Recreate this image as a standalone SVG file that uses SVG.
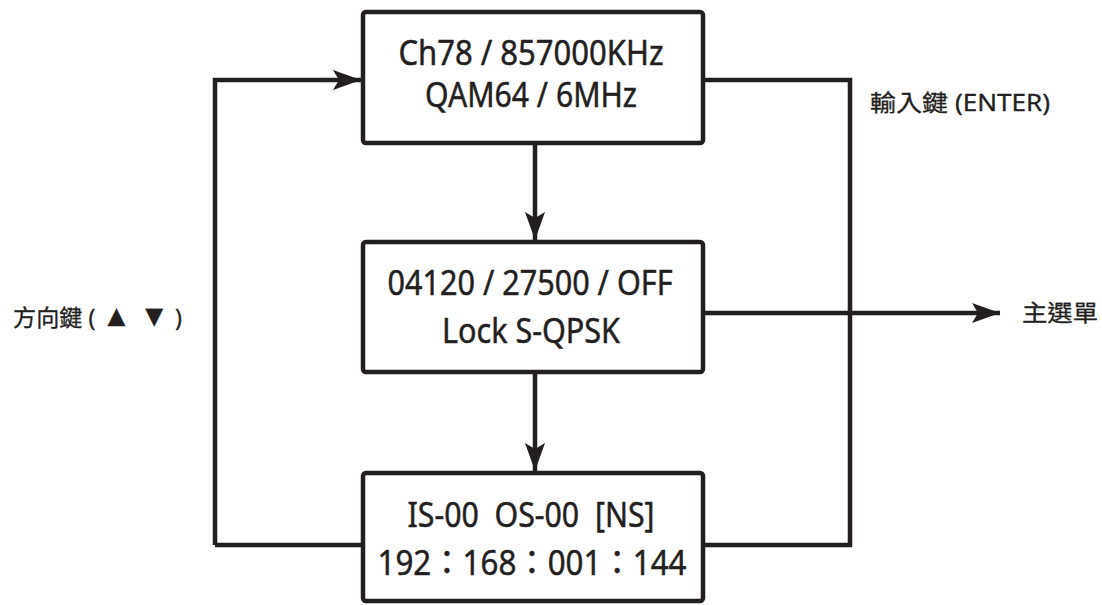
<svg xmlns="http://www.w3.org/2000/svg" width="1102" height="605" viewBox="0 0 1102 605">
<defs>
<style>
.box{fill:#fff;stroke:#231f20;stroke-width:4.5;stroke-linejoin:round}
.ln{fill:none;stroke:#231f20;stroke-width:4.5}
.t{font-family:"Noto Sans","Liberation Sans","Noto Sans CJK TC",sans-serif;font-size:34px;fill:#231f20;stroke:#231f20;stroke-width:0.5;text-anchor:middle;white-space:pre}
.lbl{font-family:"Noto Sans","Liberation Sans","Noto Sans CJK TC",sans-serif;font-size:23px;fill:#231f20;stroke:#231f20;stroke-width:0.3;white-space:pre}
</style>
<marker id="ah" markerUnits="userSpaceOnUse" markerWidth="30" markerHeight="24" viewBox="0 0 30 24" refX="28" refY="12" orient="auto">
<path d="M0,2 L28,12 L0,22 L6,12 Z" fill="#231f20"/>
</marker>
</defs>
<g id="connectors">
<path class="ln" d="M215,545 L215,80 L361,80" marker-end="url(#ah)"/>
<path class="ln" d="M703,80 L850,80 L850,545 L703,545"/>
<path class="ln" d="M365,545 L215,545"/>
<path class="ln" d="M535,143 L535,240" marker-end="url(#ah)"/>
<path class="ln" d="M535,372 L535,471" marker-end="url(#ah)"/>
<path class="ln" d="M703,313 L1000,313" marker-end="url(#ah)"/>
</g>
<g id="box1">
<rect class="box" x="363" y="12" width="340" height="131" rx="3"/>
<text class="t" x="531" y="65" textLength="265" lengthAdjust="spacingAndGlyphs">Ch78 / 857000KHz</text>
<text class="t" x="531" y="107" textLength="212" lengthAdjust="spacingAndGlyphs">QAM64 / 6MHz</text>
</g>
<g id="box2">
<rect class="box" x="363" y="242" width="340" height="130" rx="3"/>
<text class="t" x="530" y="295" textLength="285" lengthAdjust="spacingAndGlyphs">04120 / 27500 / OFF</text>
<text class="t" x="531" y="343" textLength="178" lengthAdjust="spacingAndGlyphs">Lock S-QPSK</text>
</g>
<g id="box3">
<rect class="box" x="363" y="473" width="340" height="128" rx="3"/>
<text class="t" x="531" y="527" textLength="247" lengthAdjust="spacingAndGlyphs">IS-00  OS-00  [NS]</text>
<text class="t" x="532" y="575" textLength="309" lengthAdjust="spacingAndGlyphs">192：168：001：144</text>
</g>
<g id="label-enter">
<text class="lbl" x="870" y="111" textLength="180" lengthAdjust="spacingAndGlyphs">輸入鍵 (ENTER)</text>
</g>
<g id="label-main">
<text class="lbl" x="1022" y="321" font-size="25" textLength="76" lengthAdjust="spacingAndGlyphs">主選單</text>
</g>
<g id="label-dir">
<text class="lbl" x="13" y="326" textLength="169" lengthAdjust="spacingAndGlyphs">方向鍵 ( <tspan font-size="30">▲ ▼</tspan> )</text>
</g>
</svg>
